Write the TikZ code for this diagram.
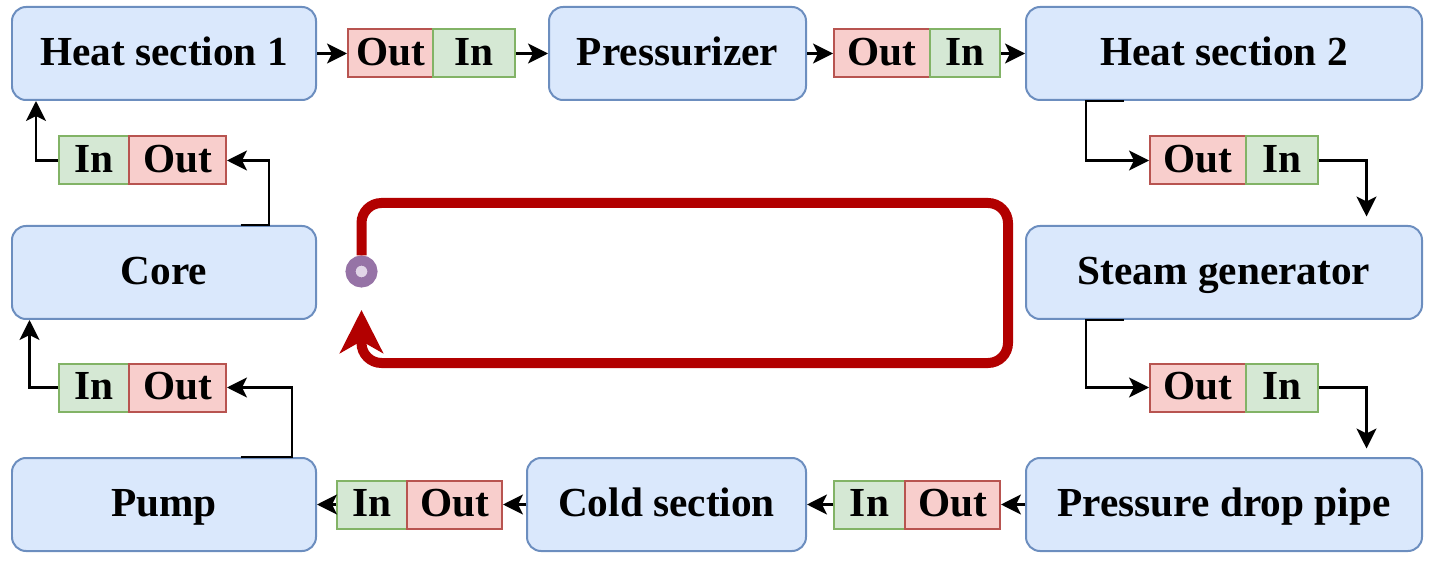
\documentclass[tikz,border=0pt]{standalone}
\usepackage{fontspec}
\setmainfont{Liberation Serif}
\usetikzlibrary{arrows.meta}
\definecolor{boxfill}{HTML}{DAE8FC}
\definecolor{boxedge}{HTML}{6C8EBF}
\definecolor{outfill}{HTML}{F8CECC}
\definecolor{outedge}{HTML}{B85450}
\definecolor{infill}{HTML}{D5E8D4}
\definecolor{inedge}{HTML}{82B366}
\definecolor{loopred}{HTML}{B20000}
\definecolor{dotfill}{HTML}{E1D5E7}
\definecolor{dotedge}{HTML}{9673A6}
\begin{document}
\begin{tikzpicture}[
  font=\fontsize{23.5}{28}\selectfont\bfseries,
  box/.style={draw=boxedge, fill=boxfill, line width=0.04cm, rounded corners=0.28cm, minimum height=1.86cm, text height=0.55cm, text depth=0.06cm},
  port/.style={line width=0.04cm, minimum height=0.96cm, inner sep=0pt, text height=0.55cm, text depth=0.06cm},
  outport/.style={port, draw=outedge, fill=outfill},
  inport/.style={port, draw=inedge, fill=infill},
  flow/.style={line width=0.045cm, -{Stealth[length=0.4cm, width=0.4cm, inset=0.1cm]}},
  loopline/.style={loopred, line width=0.2cm, rounded corners=0.4cm, -{Stealth[length=0.86cm, width=0.86cm, inset=0.24cm]}}
]
\useasboundingbox (0,0) rectangle (28.6,-11.32);
\node[box, minimum width=6.08cm] (hs1) at (3.28,-1.07) {Heat section 1};
\node[box, minimum width=5.14cm] (prz) at (13.55,-1.07) {Pressurizer};
\node[box, minimum width=7.92cm] (hs2) at (24.48,-1.07) {Heat section 2};
\node[box, minimum width=6.08cm] (core) at (3.28,-5.45) {Core};
\node[box, minimum width=7.92cm] (sg) at (24.48,-5.45) {Steam generator};
\node[box, minimum width=6.08cm] (pump) at (3.28,-10.09) {Pump};
\node[box, minimum width=5.58cm] (cold) at (13.33,-10.09) {Cold section};
\node[box, minimum width=7.92cm] (pdp) at (24.48,-10.09) {Pressure drop pipe};
\node[outport, minimum width=1.70cm] (out1) at (7.81,-1.07) {Out};
\node[inport, minimum width=1.64cm] (in1) at (9.48,-1.07) {In};
\node[outport, minimum width=1.92cm] (out2) at (17.64,-1.07) {Out};
\node[inport, minimum width=1.40cm] (in2) at (19.30,-1.07) {In};
\node[outport, minimum width=1.92cm] (out3) at (23.96,-3.21) {Out};
\node[inport, minimum width=1.44cm] (in3) at (25.64,-3.21) {In};
\node[outport, minimum width=1.92cm] (out5) at (23.96,-7.75) {Out};
\node[inport, minimum width=1.44cm] (in5) at (25.64,-7.75) {In};
\node[inport, minimum width=1.42cm] (in6) at (17.39,-10.09) {In};
\node[outport, minimum width=1.90cm] (out6) at (19.05,-10.09) {Out};
\node[inport, minimum width=1.40cm] (in7) at (7.44,-10.09) {In};
\node[outport, minimum width=1.90cm] (out7) at (9.09,-10.09) {Out};
\node[inport, minimum width=1.40cm] (in8) at (1.88,-7.75) {In};
\node[outport, minimum width=1.94cm] (out8) at (3.55,-7.75) {Out};
\node[inport, minimum width=1.40cm] (in4) at (1.88,-3.21) {In};
\node[outport, minimum width=1.94cm] (out4) at (3.55,-3.21) {Out};
\draw[flow] (hs1) -- (out1);
\draw[flow] (in1) -- (prz);
\draw[flow] (prz) -- (out2);
\draw[flow] (in2) -- (hs2);
\draw[flow] ([xshift=1.98cm]hs2.south west) -- ++(-0.76,0) |- (out3.west);
\draw[flow, shorten >=0.17cm] (in3.east) -| ([xshift=2.85cm]sg.north);
\draw[flow] ([xshift=1.98cm]sg.south west) -- ++(-0.76,0) |- (out5.west);
\draw[flow, shorten >=0.17cm] (in5.east) -| ([xshift=2.85cm]pdp.north);
\draw[flow] (pdp) -- (out6);
\draw[flow] (in6) -- (cold);
\draw[flow] (cold) -- (out7);
\draw[flow] (in7) -- (pump);
\draw[flow] ([xshift=4.59cm]pump.north west) -- ++(1.03,0) |- (out8.east);
\draw[flow] (in8.west) -| ([xshift=-2.69cm]core.south);
\draw[flow] ([xshift=4.59cm]core.north west) -- ++(0.57,0) |- (out4.east);
\draw[flow] (in4.west) -| ([xshift=-2.56cm]hs1.south);
\node[circle, draw=dotedge, fill=dotfill, line width=0.2cm, minimum size=0.44cm, inner sep=0pt] (start) at (7.23,-5.43) {};
\draw[loopline, shorten >=0.45cm] (start.north) -- (7.23,-4.06) -- (20.16,-4.06) -- (20.16,-7.26) -- (7.23,-7.26) -- (start.south);
\end{tikzpicture}
\end{document}
